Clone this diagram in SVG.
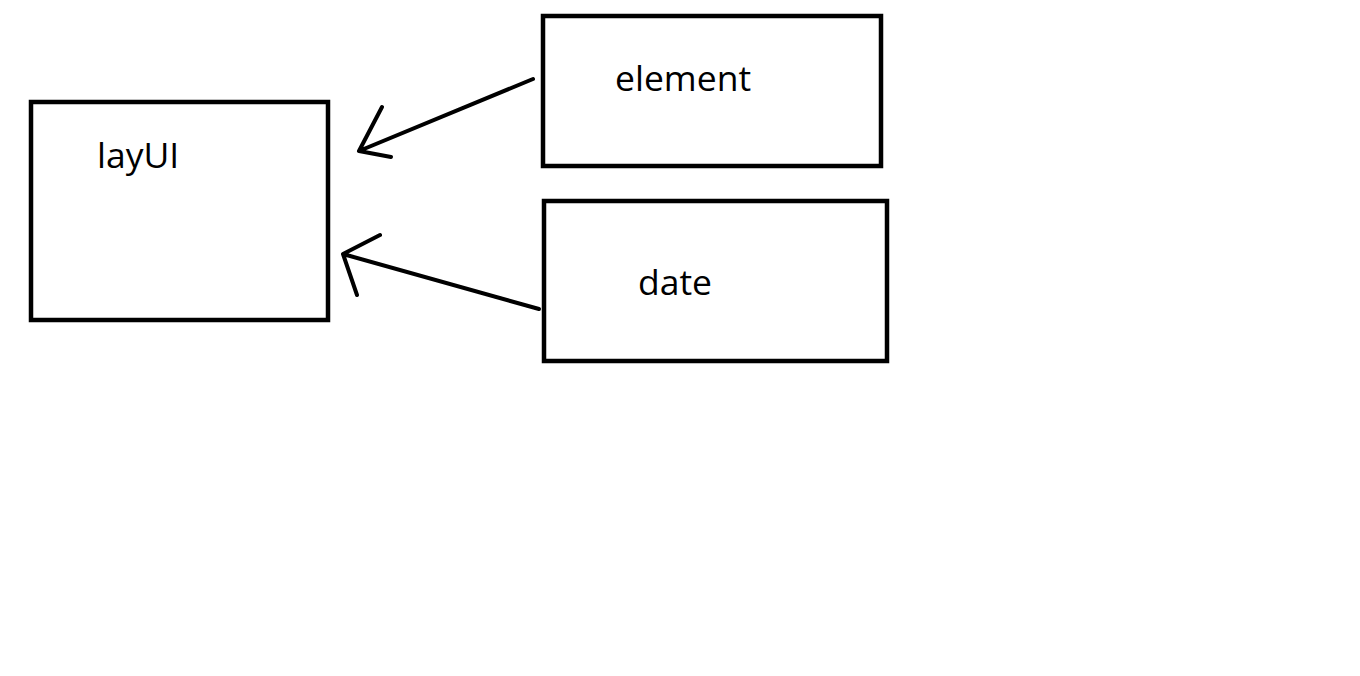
<svg xmlns="http://www.w3.org/2000/svg" width="1360" height="676" viewBox="0 0 1360 676">
<style>
.box{fill:none;stroke:#000;stroke-width:4.5}
.lbl{font-family:"Open Sans","Noto Sans","Liberation Sans",sans-serif;font-size:35.5px;fill:#000}
.con{fill:none;stroke:#000;stroke-width:4;stroke-linecap:round;stroke-linejoin:round}
</style>
<rect width="1360" height="676" fill="#fff"/>
<g id="layui">
<rect class="box" x="31" y="102" width="297" height="218"/>
<text class="lbl" x="97" y="168">layUI</text>
</g>
<g id="element">
<rect class="box" x="543" y="16" width="338" height="150"/>
<text class="lbl" x="615" y="91">element</text>
</g>
<g id="date">
<rect class="box" x="544" y="201" width="343" height="160"/>
<text class="lbl" x="638" y="295">date</text>
</g>
<g id="connectors">
<path class="con" d="M533,79 L359,151 M382,107 L359,151 L391,157"/>
<path class="con" d="M539,309 L343,254 M380,235 L343,254 L357,295"/>
</g>
</svg>
